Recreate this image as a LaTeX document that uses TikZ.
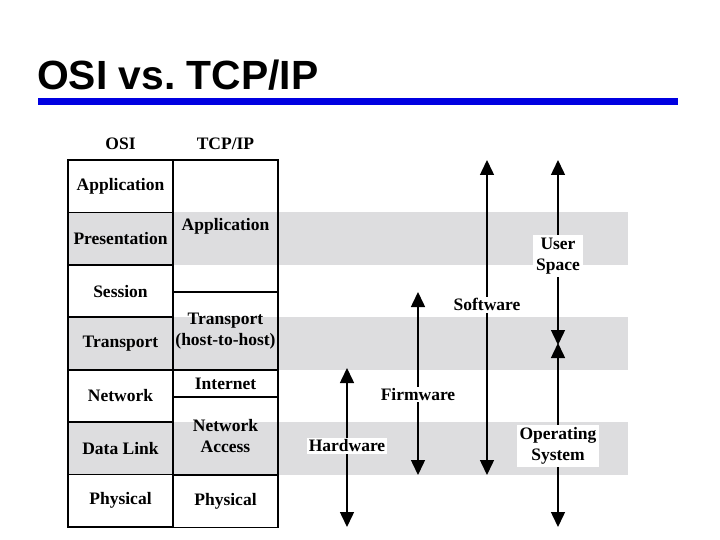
\documentclass[tikz,border=0pt]{standalone}
\usepackage{fontspec}
\setmainfont{Liberation Serif}
\newfontfamily\titlefont{Liberation Sans}
\usetikzlibrary{positioning, arrows.meta, calc}
\definecolor{bandgray}{RGB}{221,221,223}
\definecolor{ruleblue}{RGB}{0,0,225}

\begin{document}
\begin{tikzpicture}[
  x=1pt, y=-1pt,
  every node/.style={font=\fontsize{17.5}{20.5}\selectfont\bfseries},
  osicell/.style={draw, line width=1.6pt, outer sep=0pt, inner sep=0pt, align=center, minimum width=105pt, minimum height=52.43pt},
  tcpcell/.style={osicell},
  layerarrow/.style={{Triangle[width=14pt, length=15pt]}-{Triangle[width=14pt, length=15pt]}, line width=1.5pt},
  archlabel/.style={fill=white, inner sep=1.5pt, align=center}
]
\useasboundingbox (0,0) rectangle (720,540);

% title and rule
\node[font=\titlefont\fontsize{40.8}{44}\selectfont\bfseries, anchor=base west, inner sep=0pt] (title) at (37,90) {OSI vs.\ TCP/IP};
\fill[ruleblue] (38,98) rectangle (678,105);

% shaded bands
\foreach \top in {212.43, 317.29, 422.15}
  \fill[bandgray] (68,\top) rectangle (628,\top+52.43);

% OSI column
\node[osicell] (osiapp) at (120.5,186.2) {Application};
\node[osicell, below=0pt of osiapp] (osipres) {Presentation};
\node[osicell, below=0pt of osipres] (osisess) {Session};
\node[osicell, below=0pt of osisess] (ositrans) {Transport};
\node[osicell, below=0pt of ositrans] (osinet) {Network};
\node[osicell, below=0pt of osinet] (osilink) {Data Link};
\node[osicell, below=0pt of osilink] (osiphys) {Physical};

% TCP/IP column
\node[tcpcell, minimum height=132pt, anchor=north west] (tcpapp) at (osiapp.north east) {Application};
\node[tcpcell, minimum height=78pt, below=0pt of tcpapp] (tcptrans) {Transport\\(host-to-host)};
\node[tcpcell, minimum height=27pt, below=0pt of tcptrans] (tcpnet) {Internet};
\node[tcpcell, minimum height=78pt, below=0pt of tcpnet] (tcpacc) {Network\\Access};
\node[tcpcell, minimum height=52.43pt, below=0pt of tcpacc] (tcpphys) {Physical};

\node[above=7pt of osiapp] (osihead) {OSI};
\node[above=7pt of tcpapp] (tcphead) {TCP/IP};

% layer arrows
\coordinate (hwtop) at (347,368);
\coordinate (hwbot) at (347,527);
\coordinate (fwtop) at (418,292);
\coordinate (fwbot) at (418,475);
\coordinate (swtop) at (487,160);
\coordinate (swbot) at (487,475);
\coordinate (ustop) at (558,160);
\coordinate (usbot) at (558,345);
\coordinate (ostop) at (558,343);
\coordinate (osbot) at (558,527);

\draw[layerarrow] (hwtop) -- node[archlabel, pos=.49] (hwlabel) {Hardware} (hwbot);
\draw[layerarrow] (fwtop) -- node[archlabel, pos=.56] (fwlabel) {Firmware} (fwbot);
\draw[layerarrow] (swtop) -- node[archlabel, pos=.46] (swlabel) {Software} (swbot);
\draw[layerarrow] (ustop) -- node[archlabel, pos=.52, inner sep=3pt] (uslabel) {User\\Space} (usbot);
\draw[layerarrow] (ostop) -- node[archlabel, pos=.56, inner sep=3pt] (oslabel) {Operating\\System} (osbot);
\end{tikzpicture}
\end{document}
